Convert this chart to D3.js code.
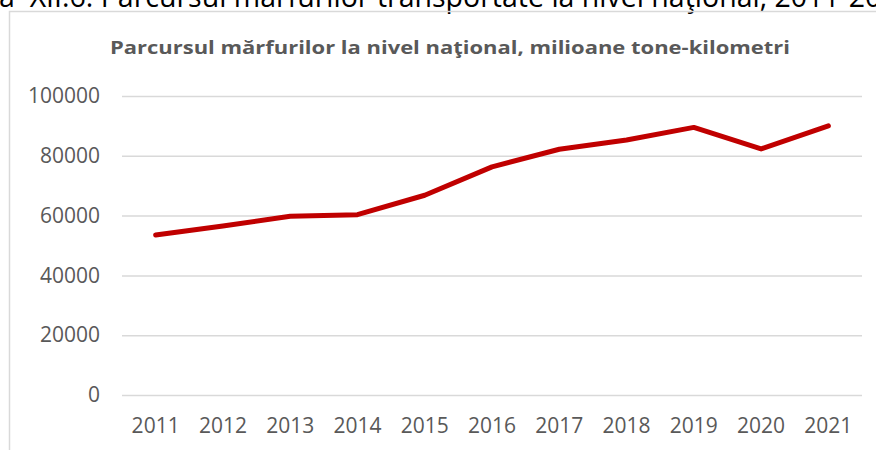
<!DOCTYPE html>
<html><head><meta charset="utf-8">
<script src="https://cdn.jsdelivr.net/npm/d3@7"></script>
<style>body{margin:0;background:#fff;overflow:hidden}svg{display:block}</style>
</head><body>
<svg id="c" width="876" height="450"></svg>
<script>
const years = ["2011","2012","2013","2014","2015","2016","2017","2018","2019","2020","2021"];
const values = [53500, 56500, 59800, 60300, 66800, 76300, 82200, 85300, 89500, 82300, 90000];
const yTicks = [0, 20000, 40000, 60000, 80000, 100000];
const chartTitle = "Parcursul mărfurilor la nivel naţional, milioane tone-kilometri";
const captionText = "Figura  XII.6. Parcursul mărfurilor transportate la nivel naţional, 2011-2021";

(function(){
const svg = d3.select("#c");
const W = 876, H = 450;
const mLeft = 122, mRight = 862, mTop = 96, mBottom = 395;

// caption (cut off at the top edge, as in the source)
const capSize = 28.5;
const cap = svg.append("text").attr("font-family","Open Sans").attr("font-size",capSize).attr("fill","#000")
  .attr("y",7).style("white-space","pre").text(captionText);
const probe = svg.append("text").attr("font-family","Open Sans").attr("font-size",capSize).text("Figur");
const off = probe.node().getComputedTextLength();
probe.remove();
cap.attr("x", -off - 1);

// chart border
svg.append("path").attr("d", `M9.5,${H} L9.5,11.5 L${W},11.5`).attr("fill","none").attr("stroke","#d9d9d9").attr("stroke-width",1.5);

// title
svg.append("text").attr("x",450).attr("y",54).attr("text-anchor","middle")
  .attr("font-family","Open Sans").attr("font-weight","bold").attr("font-size",18)
  .attr("fill","#595959").attr("textLength",680).attr("lengthAdjust","spacingAndGlyphs").text(chartTitle);

const x = d3.scaleBand().domain(years).range([mLeft,mRight]);
const y = d3.scaleLinear().domain([0,100000]).range([mBottom,mTop]);

const yAxis = svg.append("g").attr("transform",`translate(${mLeft},0)`)
  .call(d3.axisLeft(y).tickValues(yTicks).tickSize(-(mRight-mLeft)).tickPadding(22).tickFormat(d3.format("d")));
yAxis.select(".domain").remove();
yAxis.selectAll(".tick line").attr("stroke","#d9d9d9").attr("stroke-width",1.5);
yAxis.selectAll(".tick text").attr("font-family","Open Sans").attr("font-size",21).attr("fill","#595959");

const xAxis = svg.append("g").attr("transform",`translate(0,${mBottom})`)
  .call(d3.axisBottom(x).tickSize(0).tickPadding(23));
xAxis.select(".domain").remove();
xAxis.selectAll(".tick text").attr("font-family","Open Sans").attr("font-size",21).attr("fill","#595959");

const line = d3.line().x((d,i)=>x(years[i])+x.bandwidth()/2).y(d=>y(d));
svg.append("path").datum(values).attr("d",line).attr("fill","none")
  .attr("stroke","#c00000").attr("stroke-width",5).attr("stroke-linecap","round").attr("stroke-linejoin","round");
})();
</script>
</body></html>
